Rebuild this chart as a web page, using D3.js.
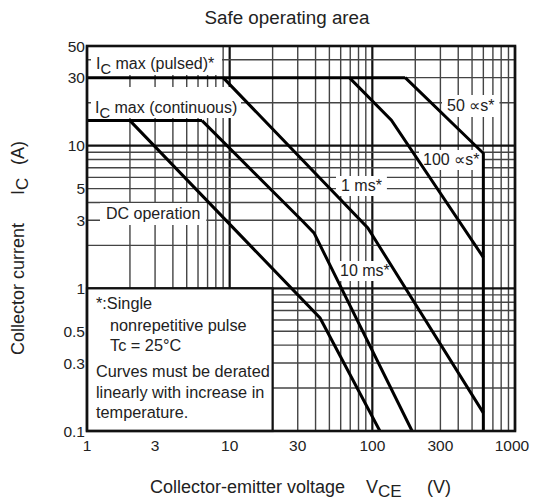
<!DOCTYPE html>
<html><head><meta charset="utf-8">
<script src="https://cdn.jsdelivr.net/npm/d3@7"></script>
<style>
body{margin:0;background:#fff}
text{font-family:"Liberation Sans",Arial,Helvetica,sans-serif;fill:#222}
</style>
</head><body>
<svg id="c" width="534" height="500"></svg>
<script>
// ---------- data ----------
const xTickLabels = [1, 3, 10, 30, 100, 300, 1000];
const yTickLabels = [0.1, 0.3, 0.5, 1, 3, 5, 10, 30, 50];
// curves: [V (V), Ic (A)]
const icPulsed   = [[1, 30], [170, 30]];
const icCont     = [[1, 15], [6.4, 15]];
const dcOperation= [[2, 15], [43, 0.62], [113, 0.1]];
const ms10       = [[6.4, 15], [32, 3.0], [39, 2.45], [190, 0.1]];
const ms1        = [[9, 30], [93, 2.65], [600, 0.134]];
const us100      = [[69, 30], [136, 15.1], [600, 1.65]];
const us50       = [[170, 30], [600, 8.85], [600, 0.1]];
const curves = [icPulsed, icCont, dcOperation, ms10, ms1, us100, us50];

// ---------- layout ----------
const svg = d3.select("#c");
const L = 87, R = 515, T = 46, B = 431;
const x = d3.scaleLog().domain([1, 1000]).range([L, R]);
const y = d3.scaleLog().domain([0.1, 50]).range([B, T]);

// grid
const g = svg.append("g");
const isDecade = v => Math.abs(Math.log10(v) - Math.round(Math.log10(v))) < 1e-9;
g.selectAll("line.vx").data(x.ticks()).join("line")
  .attr("x1", d => x(d)).attr("x2", d => x(d)).attr("y1", T).attr("y2", B)
  .attr("stroke", d => isDecade(d) ? "#111" : "#444")
  .attr("stroke-width", d => isDecade(d) ? 2.2 : 1.4);
g.selectAll("line.hy").data(y.ticks()).join("line")
  .attr("y1", d => y(d)).attr("y2", d => y(d)).attr("x1", L).attr("x2", R)
  .attr("stroke", d => isDecade(d) ? "#111" : "#444")
  .attr("stroke-width", d => isDecade(d) ? 2.2 : 1.4);

// note box (1..20 V, 0.1..1 A)
svg.append("rect").attr("x", x(1)).attr("y", y(1))
  .attr("width", x(20) - x(1)).attr("height", y(0.1) - y(1))
  .attr("fill", "#fff").attr("stroke", "#111").attr("stroke-width", 2.2);

// annotation labels with white boxes
function addLabel(parent, parts, px, py, size) {
  const t = parent.append("text").attr("x", px).attr("y", py).style("font-size", size + "px");
  parts.forEach(p => {
    const ts = t.append("tspan").text(p.t);
    if (p.sub) ts.attr("dy", size * 0.3).style("font-size", (size * 0.92) + "px");
    else if (p.after) ts.attr("dy", -size * 0.3);
  });
  return t;
}
const labels = [
  {parts:[{t:"I"},{t:"C",sub:1},{t:" max (pulsed)*",after:1}], x:96, y:69, box:[91,47,222,75]},
  {parts:[{t:"I"},{t:"C",sub:1},{t:" max (continuous)",after:1}], x:95, y:113, box:[91,87,241,118]},
  {parts:[{t:"DC operation"}], x:106, y:219, pad:[6,4]},
  {parts:[{t:"50 ∝s*"}], x:447, y:111, pad:[5,4]},
  {parts:[{t:"100 ∝s*"}], x:423, y:165, pad:[4,3]},
  {parts:[{t:"1 ms*"}], x:341, y:191, pad:[5,3]},
  {parts:[{t:"10 ms*"}], x:340, y:276, pad:[5,3]}
];
const boxG = svg.append("g"), labG = svg.append("g");
labels.forEach(l => {
  const t = addLabel(labG, l.parts, l.x, l.y, 16);
  let bx;
  if (l.box) bx = {x:l.box[0], y:l.box[1], w:l.box[2]-l.box[0], h:l.box[3]-l.box[1]};
  else { const b = t.node().getBBox(); bx = {x:b.x-l.pad[0], y:b.y-l.pad[1]+2, w:b.width+2*l.pad[0], h:b.height+2*l.pad[1]-3}; }
  boxG.append("rect").attr("x", bx.x).attr("y", bx.y).attr("width", bx.w).attr("height", bx.h).attr("fill", "#fff");
});

// curves
const line = d3.line().x(d => x(d[0])).y(d => y(d[1]));
svg.append("g").selectAll("path").data(curves).join("path")
  .attr("d", line).attr("fill", "none").attr("stroke", "#000")
  .attr("stroke-width", 3).attr("stroke-linejoin", "miter");

// frame
svg.append("rect").attr("x", L).attr("y", T).attr("width", R - L).attr("height", B - T)
  .attr("fill", "none").attr("stroke", "#111").attr("stroke-width", 2.6);

labG.raise();

// note text
const noteLines = [
  ["*:Single", 96, 309],
  ["nonrepetitive pulse", 110, 331],
  ["Tc = 25°C", 110, 351],
  ["Curves must be derated", 96, 377],
  ["linearly with increase in", 96, 398],
  ["temperature.", 96, 418]
];
svg.append("g").selectAll("text").data(noteLines).join("text")
  .attr("x", d => d[1]).attr("y", d => d[2]).style("font-size", "16.3px").text(d => d[0]);

// tick labels
svg.append("g").selectAll("text").data(yTickLabels).join("text")
  .attr("x", L - 2).attr("y", d => y(d)).attr("dy", "0.36em")
  .attr("text-anchor", "end").style("font-size", "15.5px").text(d => d);
svg.append("g").selectAll("text").data(xTickLabels).join("text")
  .attr("x", d => d === 1000 ? x(d) - 3 : x(d)).attr("y", 451)
  .attr("text-anchor", "middle").style("font-size", "15.5px").text(d => d);

// title
svg.append("text").attr("x", 287).attr("y", 24).attr("text-anchor", "middle")
  .style("font-size", "18.8px").text("Safe operating area");

// axis titles
const xt = svg.append("text").attr("x", 150).attr("y", 493).style("font-size", "18px");
xt.append("tspan").text("Collector-emitter voltage");
xt.append("tspan").attr("x", 366).text("V");
xt.append("tspan").attr("dy", 4).style("font-size", "17px").text("CE");
xt.append("tspan").attr("dy", -4).attr("x", 427).text("(V)");

const yt = svg.append("text").attr("transform", "translate(24,355) rotate(-90)").style("font-size", "18px");
yt.append("tspan").text("Collector current");
yt.append("tspan").attr("x", 160).text("I");
yt.append("tspan").attr("dy", 4).style("font-size", "17px").text("C");
yt.append("tspan").attr("dy", -4).attr("x", 190).text("(A)");
</script>
</body></html>
